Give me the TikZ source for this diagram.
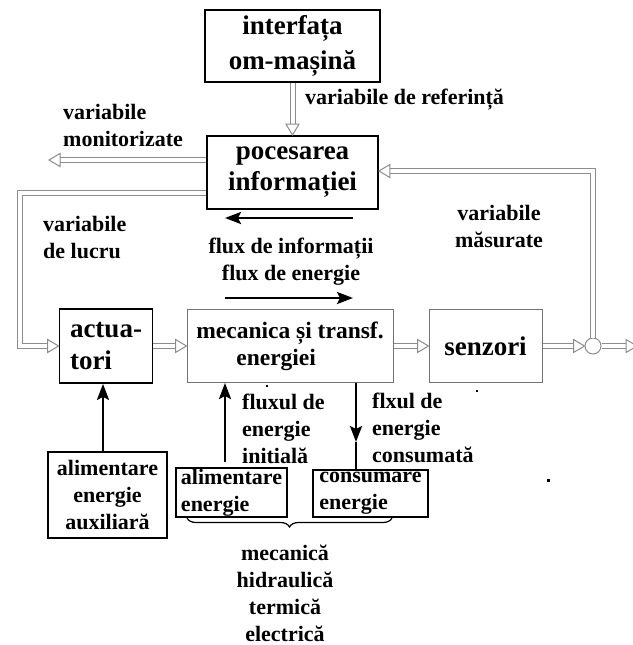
\documentclass[tikz,border=0pt]{standalone}
\usepackage{fontspec}
\setmainfont{Liberation Serif}
\usetikzlibrary{arrows.meta,decorations.pathreplacing,calc}
\begin{document}
\begin{tikzpicture}[x=1pt,y=-1pt,
  txt/.style={font=\fontsize{22}{27}\selectfont\bfseries, inner sep=0pt},
  bigtxt/.style={font=\fontsize{27}{33}\selectfont\bfseries, inner sep=0pt},
  blkbox/.style={draw=black, line width=1.8pt, inner sep=0pt},
  thinbox/.style={draw=black, line width=1.3pt, inner sep=0pt},
  graybox/.style={draw=black!55, line width=1pt, inner sep=0pt},
  dbl/.style={draw=black!45, line width=1pt, double=white, double distance=4pt, shorten >=10pt},
  flow/.style={line width=2.4pt, -{Stealth[length=16pt,width=12pt,inset=3pt]}},
  hhead/.pic={\draw[draw=black!45, fill=white, line width=1pt, line join=miter]
     (0,0) -- (-11,-6.5) -- (-11,6.5) -- cycle;}
]
\useasboundingbox (0,0) rectangle (632,645);

% ---- blocks ----
\node[blkbox, align=center, minimum width=175pt, minimum height=72pt, inner sep=0pt,
      font=\fontsize{27}{35}\selectfont\bfseries] (ihm) at (292.5,46) {interfața\\om-mașină};
\node[blkbox, align=center, minimum width=171pt, minimum height=73pt, inner sep=0pt,
      font=\fontsize{27}{31}\selectfont\bfseries] (proc) at (292.5,172.5) {pocesarea\\informației};
\node[blkbox, align=left, minimum width=93pt, minimum height=74pt, inner sep=0pt,
      font=\fontsize{27}{32}\selectfont\bfseries] (act) at (106,346) {actua-\\tori};
\node[graybox, txt, align=left, minimum width=206pt, minimum height=73pt,
      font=\fontsize{23.5}{27}\selectfont\bfseries] (mec) at (290,346)
      {mecanica și transf.\\\hspace*{40pt}energiei};
\node[graybox, bigtxt, minimum width=113pt, minimum height=73pt] (senz) at (485.5,346) {senzori};
\node[draw=black!45, line width=1pt, circle, minimum size=16pt, inner sep=0pt] (sum) at (593,346) {};

\node[thinbox, txt, align=center, minimum width=119pt, minimum height=86pt] (aux) at (107.5,495)
      {alimentare\\energie\\auxiliară};
\node[thinbox, txt, align=left, minimum width=111pt, minimum height=49pt] (alim) at (231.5,492.5)
      {alimentare\\energie};
\node[thinbox, txt, align=left, minimum width=115pt, minimum height=47pt] (cons) at (370.5,493.5)
      {consumare\\energie};

% ---- labels ----
\node[txt, anchor=west] (lref) at (305,100) {variabile de referință};
\node[txt, align=left, anchor=west] (lmon) at (63,125.5) {variabile\\monitorizate};
\node[txt, align=left, anchor=west] (lluc) at (43,237.5) {variabile\\de lucru};
\node[txt, align=center] (lflux) at (291,262) {flux de informații\\flux de energie};
\node[txt, align=center] (lmas) at (499,226.5) {variabile\\măsurate};
\node[txt, align=left, anchor=west] (lini) at (242,429) {fluxul de\\energie\\initială};
\node[txt, align=left, anchor=west] (lcon) at (372,428) {flxul de\\energie\\consumată};
\node[txt, align=center] (lkind) at (285,593) {mecanică\\hidraulică\\termică\\electrică};

% ---- signal lines (double) ----
\coordinate (mon) at (49,160);
\coordinate (lc) at (19.5,193);
\coordinate (fbrow) at (0,171);
\coordinate (out) at (637,346);

\draw[dbl] (ihm.south) -- (proc.north);
\path (proc.north) pic[rotate=-90]{hhead};

\draw[dbl] (proc.west |- mon) -- (mon);
\path (mon) pic[rotate=180]{hhead};

\draw[dbl] (proc.west |- lc) -- (lc) |- (act.west);
\path (act.west) pic{hhead};

\draw[dbl] (act.east) -- (mec.west);
\path (mec.west) pic{hhead};

\draw[dbl] (mec.east) -- (senz.west);
\path (senz.west) pic{hhead};

\draw[dbl] (senz.east) -- (sum.west);
\path (sum.west) pic{hhead};

\draw[dbl] (sum.east) -- (out);
\path (out) pic{hhead};

\draw[dbl] (sum.north) |- (proc.east |- fbrow);
\path (proc.east |- fbrow) pic[rotate=180]{hhead};

% ---- flow arrows (solid) ----
\coordinate (infoA) at (353,218);
\coordinate (infoB) at (225,218);
\coordinate (enA) at (225,298);
\coordinate (enB) at (353,298);
\draw[flow] (infoA) -- (infoB);
\draw[flow] (enA) -- (enB);

\coordinate (auxx) at (103,0);
\draw[flow] (auxx |- aux.north) -- (auxx |- act.south);

\coordinate (ini) at (225,462);
\draw[flow] (ini) -- (ini |- mec.south);

\coordinate (cmid) at (356,442);
\draw[flow] (cmid |- mec.south) -- (cmid);
\draw[line width=2.4pt] (cmid) -- (cmid |- cons.north);

% ---- brace under the energy boxes ----
\coordinate (brL) at (187,518);
\coordinate (brR) at (392,518);
\draw[decorate, decoration={brace, amplitude=9pt, mirror}, line width=1.2pt] (brL) -- (brR);

% ---- stray dots ----
\fill (547,479) rectangle ++(3,3);
\fill (476,390) rectangle ++(2,2);
\fill (266,385) rectangle ++(2,2);
\end{tikzpicture}
\end{document}
